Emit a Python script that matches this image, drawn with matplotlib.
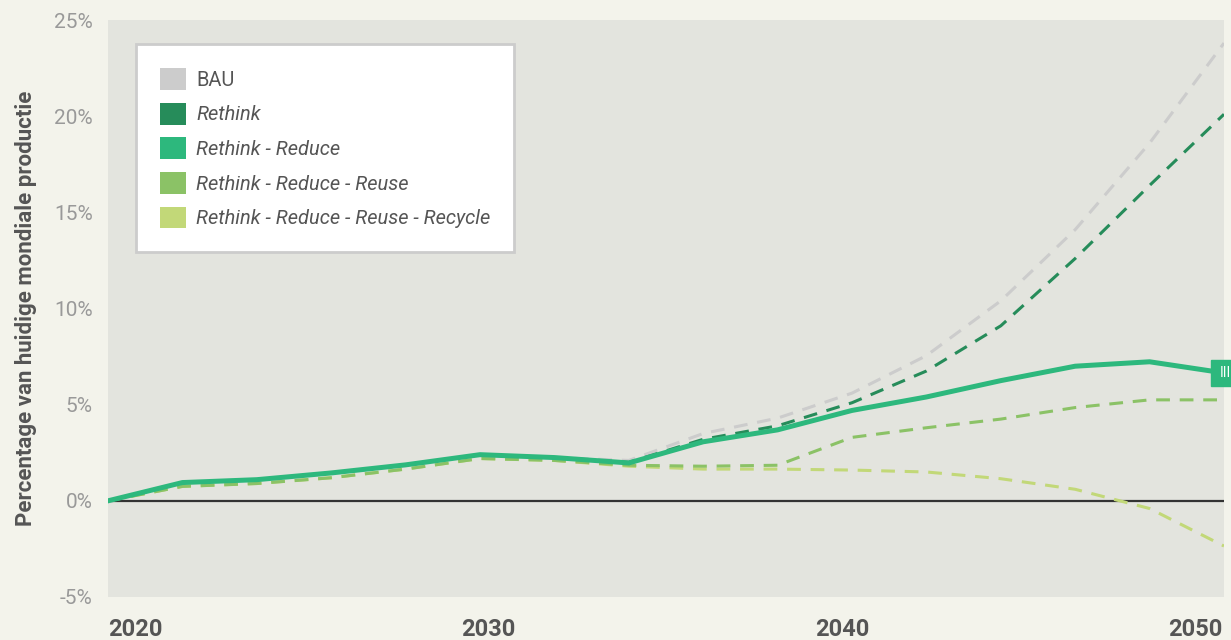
import matplotlib.pyplot as plt
from matplotlib.patches import Patch

plt.rcParams['font.family'] = ['Roboto', 'DejaVu Sans']

years = list(range(2020, 2051, 2))
bau = [0, 0.95, 1.1, 1.45, 1.85, 2.4, 2.25, 2.1, 3.5, 4.3, 5.6, 7.55, 10.4, 14.1, 18.6, 23.8]
rethink = [0, 0.95, 1.1, 1.45, 1.85, 2.4, 2.25, 2.0, 3.2, 3.9, 5.1, 6.75, 9.1, 12.6, 16.4, 20.1]
reduce = [0, 0.95, 1.1, 1.45, 1.87, 2.4, 2.25, 1.97, 3.07, 3.69, 4.7, 5.4, 6.25, 7.0, 7.23, 6.65]
reuse = [0, 0.75, 0.9, 1.2, 1.65, 2.2, 2.1, 1.85, 1.8, 1.85, 3.3, 3.8, 4.25, 4.85, 5.25, 5.25]
recycle = [0, 0.75, 0.9, 1.2, 1.65, 2.2, 2.1, 1.8, 1.65, 1.65, 1.6, 1.5, 1.15, 0.6, -0.4, -2.35]

labels = ['BAU', 'Rethink', 'Rethink - Reduce', 'Rethink - Reduce - Reuse',
          'Rethink - Reduce - Reuse - Recycle']
colors = ['#cccccc', '#268c5a', '#2db87d', '#8bc266', '#c2d878']
yticks = [-5, 0, 5, 10, 15, 20, 25]
xlabels = ['2020', '2030', '2040', '2050']

fig = plt.figure(figsize=(12.31, 6.40), dpi=100, facecolor='#f3f3eb')
ax = fig.add_axes([108/1231, 43/640, 1116/1231, 577/640])
ax.set_facecolor('#e3e4de')

ax.axhline(0, color='#333333', lw=1.6, zorder=2)

dash = (4.5, 3.2)
ax.plot(years, bau, color=colors[0], lw=2.2, dashes=dash, zorder=3)
ax.plot(years, rethink, color=colors[1], lw=2.2, dashes=dash, zorder=4)
ax.plot(years, recycle, color=colors[4], lw=2.2, dashes=dash, zorder=5)
ax.plot(years, reuse, color=colors[3], lw=2.2, dashes=dash, zorder=6)
ax.plot(years, reduce, color=colors[2], lw=3.6, zorder=7, solid_joinstyle='miter')
ax.plot([years[-1]], [reduce[-1]], marker='s', ms=19, color=colors[2], clip_on=False, zorder=8)
ax.text(years[-1] - 0.12, reduce[-1], 'III', color='white', fontsize=10, ha='left',
        va='center', zorder=9, clip_on=False)

ax.set_xlim(years[0], years[-1])
ax.set_ylim(-5, 25)
for s in ax.spines.values():
    s.set_visible(False)

ax.set_yticks(yticks)
ax.set_yticklabels([f'{t}%' for t in yticks], color='#999999', fontsize=15)
ax.tick_params(axis='y', length=0, pad=11)
ax.set_xticks([])
for i, lab in enumerate(xlabels):
    ax.text(i / 3 * 0.95, -0.0555, lab, transform=ax.transAxes, ha='left', va='center',
            fontsize=17, fontweight='bold', color='#555555')

ax.set_ylabel('Percentage van huidige mondiale productie', fontsize=16, fontweight='bold',
              color='#555555', labelpad=12)

handles = [Patch(facecolor=c, edgecolor='none') for c in colors]
leg = ax.legend(handles, labels, loc='upper left', bbox_to_anchor=(0.0251, 0.958),
                borderaxespad=0, fontsize=14.4, handlelength=1.3, handleheight=1.3,
                handletextpad=0.5, labelspacing=0.64, borderpad=1.2, fancybox=False,
                framealpha=1, facecolor='white', edgecolor='#cccccc')
leg.get_frame().set_linewidth(2)
for i, t in enumerate(leg.get_texts()):
    t.set_color('#555555')
    if i > 0:
        t.set_fontstyle('italic')

fig.savefig('out.png', dpi=100, facecolor=fig.get_facecolor())
